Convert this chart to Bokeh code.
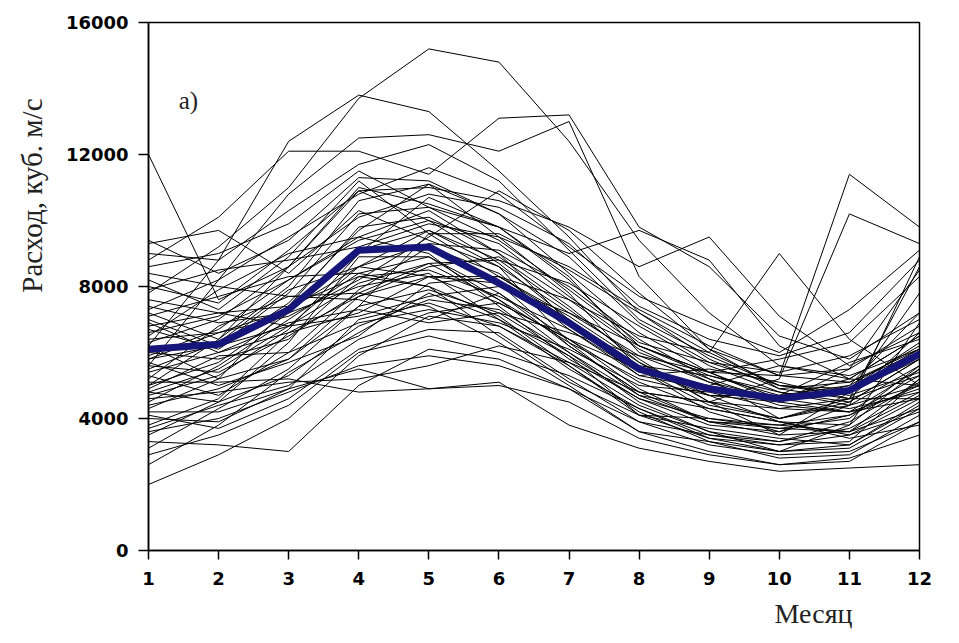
import numpy as np
from bokeh.plotting import figure
from bokeh.models import Range1d, Label, FixedTicker, Title
from bokeh.embed import file_html
from bokeh.resources import INLINE

months = list(range(1, 13))
month_labels = [str(m) for m in months]
y_ticks = [0, 4000, 8000, 12000, 16000]

# mean monthly discharge (thick blue line)
mean_flow = [6100, 6250, 7300, 9100, 9200, 8100, 6900, 5500, 4900, 4600, 4850, 5950]

# individual years, monthly discharge, m3/s
year_flows = [
    [7800, 9200, 11000, 13700, 15200, 14800, 12400, 9400, 7200, 5600, 5200, 6500],
    [12000, 7600, 8600, 11000, 10500, 9800, 8200, 6200, 5300, 4700, 5000, 6200],
    [6200, 8800, 12400, 13800, 13300, 11500, 9500, 7200, 6000, 5000, 4800, 5800],
    [8800, 10100, 12100, 12100, 11400, 13100, 13200, 9800, 8600, 6500, 5800, 7200],
    [5600, 8200, 10800, 12500, 12600, 12100, 13000, 8300, 6100, 5300, 5100, 6100],
    [9400, 8400, 9400, 11300, 11200, 10200, 8400, 6600, 5400, 4500, 4200, 5500],
    [5000, 6400, 8600, 10900, 11000, 10600, 9800, 8600, 9500, 7100, 5600, 6600],
    [7000, 6200, 7800, 10200, 10400, 9800, 9000, 9700, 8800, 6200, 5200, 5000],
    [4300, 5200, 7400, 9800, 10100, 9000, 7600, 6500, 6000, 9000, 6400, 5000],
    [6600, 7100, 8200, 9400, 10000, 9300, 7700, 6200, 5400, 5300, 11400, 9800],
    [5800, 6600, 7300, 8600, 9700, 8800, 7300, 5800, 4500, 5200, 10200, 9300],
    [8200, 7300, 8900, 11200, 9600, 8300, 7000, 5500, 4200, 3600, 4400, 8900],
    [4800, 5500, 6800, 8600, 9300, 9100, 8000, 6400, 5200, 4000, 4600, 8600],
    [3500, 4500, 6300, 8900, 8900, 7800, 6400, 4900, 3900, 3500, 4800, 7800],
    [6800, 7200, 6800, 8100, 8700, 7600, 6300, 4700, 4300, 3900, 3800, 6900],
    [5400, 6000, 6600, 7200, 8300, 8300, 7100, 5700, 4700, 4500, 5500, 8500],
    [4600, 4800, 5100, 5200, 5600, 6200, 5700, 4800, 4500, 4300, 4200, 4600],
    [2000, 2900, 4000, 5900, 7100, 6800, 5600, 4200, 3300, 2800, 2900, 4100],
    [3300, 3200, 3000, 5000, 6100, 5800, 4900, 3600, 3000, 2600, 2800, 3500],
    [2600, 3800, 5400, 6600, 7800, 7000, 5900, 4100, 3400, 3200, 3300, 5200],
    [4000, 3900, 4900, 5500, 4900, 5000, 4500, 3400, 2900, 2600, 2700, 3900],
    [5100, 5100, 5200, 4800, 4900, 5100, 3800, 3100, 2700, 2400, 2500, 2600],
    [7600, 7200, 7400, 8300, 8000, 7100, 5600, 4100, 3700, 3400, 3200, 4500],
    [6000, 5800, 6400, 8300, 8500, 7700, 6700, 5300, 5500, 5100, 4600, 4600],
    [4200, 4200, 4900, 7000, 7500, 6800, 5700, 4400, 3600, 3000, 3100, 4300],
    [5200, 6800, 7700, 7600, 7000, 7800, 6200, 4800, 3900, 3700, 3600, 5200],
    [3800, 4600, 6600, 7700, 8600, 8900, 7400, 5700, 4500, 3500, 3600, 4700],
    [8400, 8000, 7700, 7800, 8700, 8800, 8100, 6800, 5600, 4800, 4500, 5800],
    [9300, 9700, 8400, 10300, 9400, 8600, 6300, 5200, 4700, 4700, 5700, 6400],
    [6200, 5200, 5800, 7400, 9600, 9600, 8500, 7200, 5800, 4900, 4600, 5300],
    [4500, 5600, 7000, 8400, 8000, 6500, 5100, 4100, 4000, 3800, 3600, 4300],
    [5900, 6700, 8200, 9500, 9000, 7400, 5800, 4600, 4000, 3700, 4000, 5600],
    [7200, 6400, 8000, 10600, 11100, 9500, 7800, 5500, 4400, 4000, 4400, 5600],
    [5600, 5400, 6500, 7800, 7400, 6300, 5000, 3600, 3300, 3000, 3800, 5500],
    [4900, 5900, 6000, 6900, 7300, 6900, 6100, 5000, 4800, 4300, 4600, 6600],
    [6500, 7900, 9000, 9500, 10300, 9000, 6900, 5300, 4900, 4600, 4900, 6100],
    [7400, 6900, 7200, 9100, 9700, 8600, 7200, 5900, 5100, 4400, 4200, 4900],
    [3100, 4300, 5500, 7400, 7900, 7200, 5900, 4600, 3800, 3600, 4100, 5300],
    [5300, 4700, 6000, 7900, 9200, 8400, 6700, 5400, 5000, 5600, 5300, 6100],
    [8000, 7500, 9100, 10900, 10000, 8700, 7000, 5600, 5300, 4800, 4400, 5000],
    [4700, 5300, 6700, 9000, 10700, 9800, 8300, 6000, 5200, 4500, 5000, 7200],
    [6900, 6000, 6900, 7300, 6900, 7200, 6600, 5900, 5400, 5800, 6300, 8300],
    [5500, 6300, 7900, 8600, 8300, 7500, 6400, 5100, 4300, 3900, 3400, 3800],
    [3700, 4400, 5000, 6400, 7200, 7500, 6400, 5500, 4700, 3900, 3500, 4200],
    [8600, 9000, 9900, 11500, 10400, 9400, 7900, 6300, 5700, 5400, 5900, 7000],
    [6400, 6600, 7100, 8200, 9500, 10900, 9700, 7800, 6100, 4900, 5100, 6000],
    [4400, 4900, 5800, 7700, 8300, 8100, 6200, 4800, 4500, 4000, 4500, 5800],
    [7100, 7700, 8300, 8400, 8900, 7600, 6000, 4500, 3600, 3300, 3900, 5100],
    [5700, 5000, 5700, 6500, 8100, 8300, 7600, 6100, 5100, 4600, 5200, 6500],
    [2900, 3500, 4400, 6000, 6500, 6000, 5300, 4300, 3400, 3000, 3200, 4400],
    [6700, 6100, 7500, 9700, 11100, 10200, 8900, 6900, 5700, 5000, 4700, 5400],
    [5000, 5700, 7200, 8000, 8400, 7000, 5500, 4300, 3500, 3200, 3500, 4600],
    [7900, 8500, 8800, 9200, 9900, 9500, 8600, 7300, 6200, 5300, 5500, 6800],
    [4100, 3700, 4600, 6100, 6700, 6600, 5200, 3900, 3200, 2900, 3000, 3900],
    [6300, 7000, 8600, 10100, 10800, 10400, 9300, 7400, 6400, 5900, 6600, 8800],
    [4800, 4500, 5300, 6800, 7600, 7300, 6000, 4700, 3900, 3800, 4100, 5000],
    [9000, 8800, 10300, 11700, 12300, 11200, 9100, 7000, 5900, 5000, 4900, 6300],
    [5800, 6200, 6800, 7100, 7700, 8000, 7200, 6200, 5400, 4600, 4300, 4800],
    [3600, 4000, 4800, 5600, 5900, 5600, 4900, 3900, 3500, 3300, 3700, 4800],
    [7300, 8200, 9500, 10800, 11600, 10800, 9200, 7700, 6800, 6000, 7300, 9100],
]

p = figure(width=950, height=642, output_backend="svg", toolbar_location=None,
           x_range=Range1d(1, 12), y_range=Range1d(0, 16000),
           min_border_left=148, min_border_right=31,
           min_border_top=22, min_border_bottom=92)
p.background_fill_color = "white"
p.border_fill_color = "white"
p.outline_line_color = "black"
p.outline_line_width = 1.5
p.xgrid.visible = False
p.ygrid.visible = False

p.multi_line(xs=[months] * len(year_flows), ys=year_flows,
             line_color="black", line_width=1)
p.line(months, mean_flow, line_color="#16167a", line_width=7,
       line_join="round", line_cap="round")

p.xaxis.ticker = FixedTicker(ticks=months)
p.xaxis.major_label_overrides = {m: lbl for m, lbl in zip(months, month_labels)}
p.yaxis.ticker = FixedTicker(ticks=y_ticks)
for ax in (p.xaxis[0], p.yaxis[0]):
    ax.axis_line_color = "black"
    ax.axis_line_width = 1.5
    ax.major_tick_line_color = "black"
    ax.major_tick_line_width = 1.5
    ax.major_tick_in = 0
    ax.minor_tick_line_color = None
    ax.major_label_text_font = "DejaVu Sans"
    ax.major_label_text_font_style = "bold"
    ax.major_label_text_font_size = "18px"
    ax.major_label_text_color = "black"
p.xaxis.major_tick_out = 9
p.xaxis.major_label_standoff = 12
p.yaxis.major_tick_out = 10
p.yaxis.major_label_standoff = 10

p.add_layout(Title(text="Месяц", align="right", offset=67, standoff=16,
                   text_font="Liberation Serif", text_font_size="28px",
                   text_font_style="normal", text_color="#222222"), "below")
p.add_layout(Title(text="Расход, куб. м/с", align="right", offset=76,
                   standoff=26, vertical_align="top",
                   text_font="Liberation Serif", text_font_size="29px",
                   text_font_style="normal", text_color="#222222"), "left")
p.add_layout(Label(x=1.57, y=13650, text="а)", text_font="Liberation Serif",
                   text_font_size="25px", text_align="center",
                   text_baseline="middle", text_color="#222222"))

open("out.html", "w").write(file_html(p, INLINE))
